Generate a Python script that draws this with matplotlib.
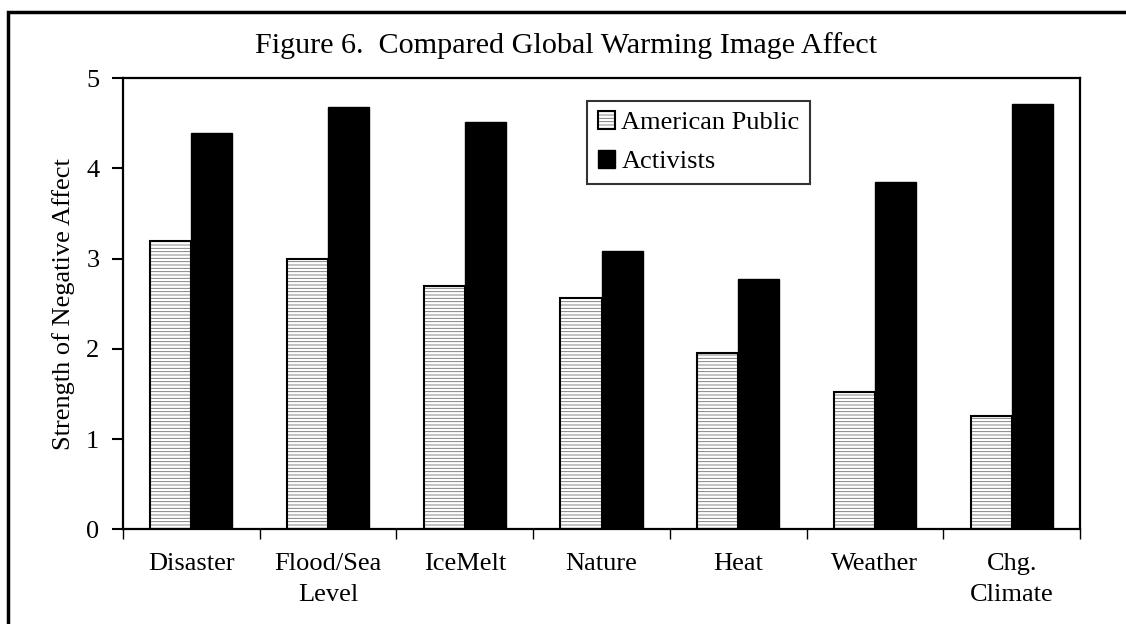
import numpy as np
import matplotlib
matplotlib.use("Agg")
import matplotlib.pyplot as plt
import matplotlib.patches as mpatches

categories = ["Disaster", "Flood/Sea\nLevel", "IceMelt", "Nature", "Heat", "Weather", "Chg.\nClimate"]
american_public = [3.20, 3.00, 2.70, 2.56, 1.95, 1.52, 1.26]
activists = [4.39, 4.68, 4.51, 3.09, 2.78, 3.85, 4.72]
y_ticks = [0, 1, 2, 3, 4, 5]

plt.rcParams['font.family'] = ['Liberation Serif', 'DejaVu Serif']
plt.rcParams['hatch.linewidth'] = 0.6

fig = plt.figure(figsize=(11.26, 6.24), dpi=100)
ax = fig.add_axes([123 / 1126, 1 - 529.3 / 624, (1080 - 123) / 1126, (529.3 - 78.3) / 624])

x = np.arange(len(categories))
w = 0.3

# hatch layer first (grey lines), then black outline on top
hatch_bars = ax.bar(x - w / 2, american_public, w, color='white', edgecolor='#707070',
                    hatch='-----', linewidth=0)
outline_bars = ax.bar(x - w / 2, american_public, w, fill=False, edgecolor='black', linewidth=1.5)
act_bars = ax.bar(x + w / 2, activists, w, color='black', edgecolor='black', linewidth=1.0)

ax.set_xlim(-0.5, len(categories) - 0.5)
ax.set_ylim(0, 5)
ax.set_yticks(y_ticks)
ax.tick_params(axis='y', direction='out', length=8, width=1.5, pad=9, labelsize=19)

# labels at centers, ticks at category boundaries
ax.set_xticks(x)
ax.set_xticklabels(categories, fontsize=19, linespacing=1.55)
ax.tick_params(axis='x', which='major', length=0, pad=17)
ax.set_xticks(np.arange(len(categories) + 1) - 0.5, minor=True)
ax.tick_params(axis='x', which='minor', direction='out', length=7, width=1.0)

for s in ax.spines.values():
    s.set_linewidth(1.6)

ax.set_ylabel("Strength of Negative Affect", fontsize=19)
ax.yaxis.set_label_coords(-0.05, 0.5)

fig.text(0.503, 0.915, "Figure 6.  Compared Global Warming Image Affect", ha='center',
         va='baseline', fontsize=21.7)

ap_handle = (mpatches.Patch(facecolor='white', edgecolor='#707070', hatch='-----', linewidth=0),
             mpatches.Patch(fill=False, edgecolor='black', linewidth=1.5))
act_handle = mpatches.Patch(facecolor='black', edgecolor='black')
leg = ax.legend([ap_handle, act_handle], ["American Public", "Activists"],
                loc='upper left', bbox_to_anchor=(0.485, 0.95), fontsize=19,
                frameon=True, fancybox=False, borderpad=0.4, labelspacing=0.6,
                handlelength=0.65, handleheight=0.65, handletextpad=0.25, borderaxespad=0)
leg.get_frame().set_edgecolor('black')
leg.get_frame().set_linewidth(1.5)

# outer figure frame (cut off at right and bottom in the original)
frame = mpatches.Rectangle((8 / 1126, -0.05), 1.1, 1 - 12 / 624 + 0.05, transform=fig.transFigure,
                           fill=False, edgecolor='black', linewidth=2.5, clip_on=False)
fig.patches.append(frame)

fig.savefig("out.png", dpi=100)
